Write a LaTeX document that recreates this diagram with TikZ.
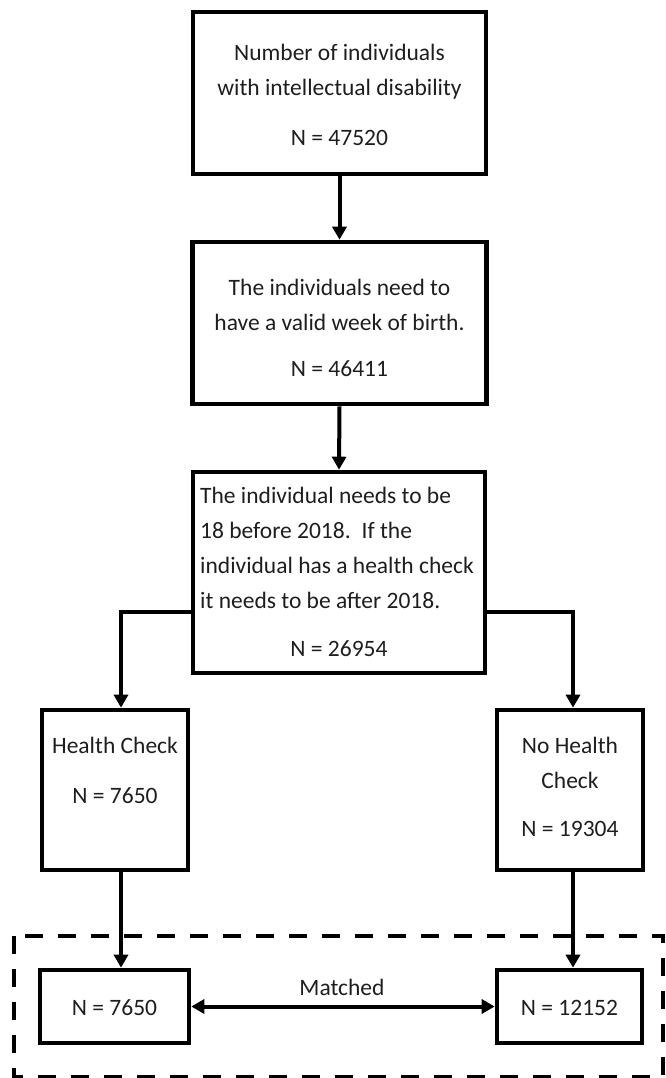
\documentclass[tikz,border=0pt]{standalone}
\usepackage{fontspec}
\setmainfont{Carlito}
\usetikzlibrary{arrows.meta,calc}
\definecolor{txtc}{RGB}{30,30,30}
\begin{document}
\begin{tikzpicture}[x=1pt,y=-1pt,
  box/.style={draw=black,line width=4.6pt,minimum width=#1,inner sep=0pt},
  txt/.style={inner sep=0pt,text=txtc,font=\fontsize{23.5}{35}\selectfont,align=center},
  conn/.style={line width=4pt,-{Triangle[length=13pt,width=14pt]}},
  dconn/.style={line width=4pt,{Triangle[length=13pt,width=14pt]}-{Triangle[length=13pt,width=14pt]}},
  grp/.style={line width=4.6pt,dash pattern=on 18pt off 15pt}
]
\useasboundingbox (0,0) rectangle (665,1078);
% boxes
\node[box=293pt,minimum height=162pt] (b1) at (339.5,93) {};
\node[box=294pt,minimum height=162pt] (b2) at (339.5,323) {};
\node[box=292pt,minimum height=201pt] (b3) at (339,572.5) {};
\node[box=146pt,minimum height=160pt] (hc) at (115,790) {};
\node[box=146pt,minimum height=160pt] (nhc) at (570,790) {};
\node[box=149pt,minimum height=73pt] (m1) at (114.5,1006.5) {};
\node[box=145pt,minimum height=73pt] (m2) at (569.5,1006.5) {};
% texts
\node[txt] (t1) at (339.5,95) {Number of individuals\\with intellectual disability\\[15pt]N = 47520};
\node[txt] (t2) at (339.5,327.5) {The individuals need to\\have a valid week of birth.\\[11pt]N = 46411};
\node[txt,align=left,anchor=west] (t3) at (200,547.5) {The individual needs to be\\18 before 2018.\, If the\\individual has a health check\\it needs to be after 2018.};
\node[txt] (t3n) at (339,648.5) {N = 26954};
\node[txt] (thc) at (115,770) {Health Check\\[15pt]N = 7650};
\node[txt] (tnhc) at (570,786.5) {No Health\\Check\\[13pt]N = 19304};
\node[txt] (tm1) at (114.5,1008) {N = 7650};
\node[txt] (tm2) at (569.5,1008) {N = 12152};
\node[txt] (tmat) at (342,987) {Matched};
% group
\draw[grp] (14,936) rectangle (663,1077);
% connector coordinates
\coordinate (bl) at (121,612);
\coordinate (br) at (573,612);
% connectors
\draw[conn] (b1.south) -- (b2.north);
\draw[conn] (b2.south) -- (b3.north);
\draw[conn] (b3.west |- bl) -- (bl) -- (hc.north -| bl);
\draw[conn] (b3.east |- br) -- (br) -- (nhc.north -| br);
\draw[conn] (hc.south -| bl) -- (m1.north -| bl);
\draw[conn] (nhc.south -| br) -- (m2.north -| br);
\draw[dconn] (m1.east) -- (m2.west);
\end{tikzpicture}
\end{document}
